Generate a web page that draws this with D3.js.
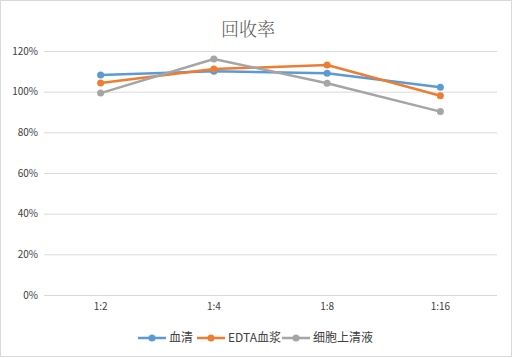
<!DOCTYPE html>
<html><head><meta charset="utf-8">
<script src="https://cdn.jsdelivr.net/npm/d3@7"></script>
<style>body{margin:0;background:#fff}svg{display:block}</style>
</head><body>
<script>
const categories = ["1:2","1:4","1:8","1:16"];
const seriesNames = ["血清","EDTA血浆","细胞上清液"];
const serum = [108.2, 110.0, 109.1, 102.2];
const edta = [104.3, 111.1, 113.1, 98.0];
const supernatant = [99.3, 116.1, 104.1, 90.2];
const yTicks = [0,20,40,60,80,100,120];
const colors = ["#5B9BD5","#ED7D31","#A5A5A5"];
const seriesValues = [serum, edta, supernatant];

const W=513,H=358;
const svg=d3.select("body").append("svg").attr("width",W).attr("height",H);
svg.append("rect").attr("x",0.5).attr("y",0.5).attr("width",W-2).attr("height",H-2)
  .attr("fill","#fff").attr("stroke","#D9D9D9");

const font="'Microsoft YaHei','Noto Sans CJK SC',sans-serif";
svg.append("text").attr("x",248).attr("y",36).attr("text-anchor","middle")
  .attr("font-family","'Noto Serif CJK SC','Noto Sans CJK SC',serif").attr("font-size",18).attr("font-weight",300).attr("fill","#595959").text("回收率");

const x=d3.scaleBand().domain(categories).range([44,497]);
const y=d3.scaleLinear().domain([0,120]).range([295,51]);

const grid=svg.append("g");
yTicks.forEach(t=>{
  grid.append("line").attr("x1",44).attr("x2",497).attr("y1",y(t)+0.5).attr("y2",y(t)+0.5)
   .attr("stroke","#D9D9D9").attr("stroke-width",1);
});
const yAxis=d3.axisLeft(y).tickValues(yTicks).tickFormat(d=>d+"%").tickSize(0).tickPadding(6);
const ga=svg.append("g").attr("transform","translate(44,0)").call(yAxis);
ga.select(".domain").remove();
ga.selectAll("text").attr("font-family",font).attr("font-size",10).attr("fill","#404040");

const xAxis=d3.axisBottom(x).tickSize(0).tickPadding(8);
const gx=svg.append("g").attr("transform","translate(0,295)").call(xAxis);
gx.select(".domain").remove();
gx.selectAll("text").attr("font-family",font).attr("font-size",10).attr("fill","#404040");

const line=d3.line().x((d,i)=>x(categories[i])+x.bandwidth()/2).y(d=>y(d));
seriesValues.forEach((vals,si)=>{
  svg.append("path").datum(vals).attr("d",line).attr("fill","none")
    .attr("stroke",colors[si]).attr("stroke-width",2.5).attr("stroke-linejoin","round");
  svg.selectAll(null).data(vals).enter().append("circle")
    .attr("cx",(d,i)=>x(categories[i])+x.bandwidth()/2).attr("cy",d=>y(d)).attr("r",3.5)
    .attr("fill",colors[si]);
});

// legend
const legX=[138,197,282];
const lg=svg.append("g");
seriesNames.forEach((n,i)=>{
  const lx=legX[i], ly=338;
  lg.append("line").attr("x1",lx).attr("x2",lx+28).attr("y1",ly).attr("y2",ly)
    .attr("stroke",colors[i]).attr("stroke-width",2.5);
  lg.append("circle").attr("cx",lx+14).attr("cy",ly).attr("r",3.5).attr("fill",colors[i]);
  lg.append("text").attr("x",lx+31).attr("y",ly+4).attr("font-family",font)
    .attr("font-size",12).attr("fill","#404040").text(n);
});
</script>
</body></html>
